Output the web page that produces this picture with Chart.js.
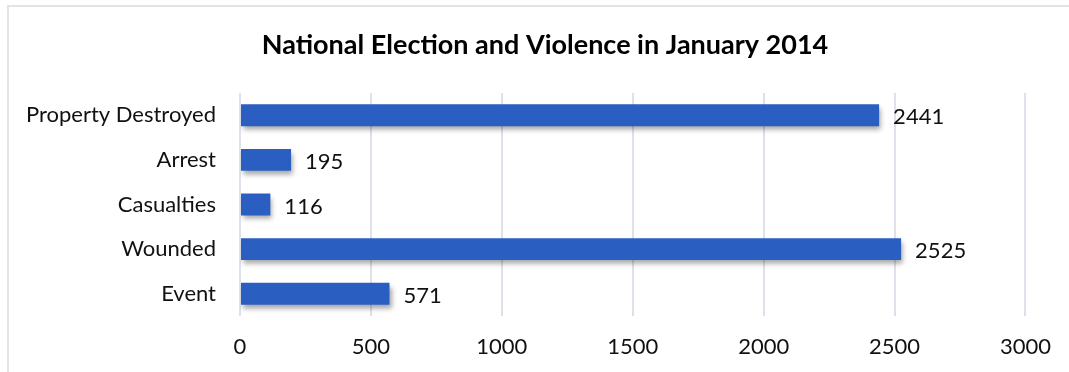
<!DOCTYPE html>
<html>
<head>
<meta charset="utf-8">
<script src="https://cdn.jsdelivr.net/npm/chart.js@4.4.1/dist/chart.umd.min.js"></script>
<style>
  html, body { margin: 0; padding: 0; background: #fff; overflow: hidden; }
  canvas { display: block; }
</style>
</head>
<body>
<canvas id="chart" width="1069" height="372"></canvas>
<script>
// chart data
const categories = ['Property Destroyed', 'Arrest', 'Casualties', 'Wounded', 'Event'];
const values = [2441, 195, 116, 2525, 571];
const xTicks = [0, 500, 1000, 1500, 2000, 2500, 3000];
const titleText = 'National Election and Violence in January 2014';

const FONT = 'Lato, "Open Sans", sans-serif';

// bar gradient, darker at the bottom
function barFill(context) {
  const el = context.element;
  const c = context.chart.ctx;
  if (!el || el.y === undefined) return '#2a5ec0';
  const h = el.height || 22;
  const g = c.createLinearGradient(0, el.y - h / 2, 0, el.y + h / 2);
  g.addColorStop(0, '#2f6cd6');
  g.addColorStop(1, '#234fa3');
  return g;
}

// light frame (top and left edges) plus the centred title
const framePlugin = {
  id: 'frame',
  beforeDraw(chart) {
    const c = chart.ctx;
    c.save();
    c.strokeStyle = '#e3e3e3';
    c.lineWidth = 2;
    c.beginPath();
    c.moveTo(8, 372);
    c.lineTo(8, 6);
    c.lineTo(1069, 6);
    c.stroke();
    c.font = 'bold 27px ' + FONT;
    c.fillStyle = '#000';
    c.textAlign = 'center';
    c.textBaseline = 'middle';
    c.fillText(titleText, 545, 45);
    c.restore();
  }
};

// soft shadow under the bars
const shadowPlugin = {
  id: 'shadow',
  beforeDatasetsDraw(chart) {
    const c = chart.ctx;
    c.save();
    c.shadowColor = 'rgba(0,0,0,0.35)';
    c.shadowBlur = 5;
    c.shadowOffsetX = 2;
    c.shadowOffsetY = 4;
  },
  afterDatasetsDraw(chart) {
    chart.ctx.restore();
  }
};

// value labels to the right of each bar
const valueLabels = {
  id: 'valueLabels',
  afterDatasetsDraw(chart) {
    const c = chart.ctx;
    const meta = chart.getDatasetMeta(0);
    c.save();
    c.font = '22px ' + FONT;
    c.fillStyle = '#111';
    c.textAlign = 'left';
    c.textBaseline = 'middle';
    meta.data.forEach((bar, i) => {
      c.fillText(String(values[i]), bar.x + 14, bar.y + 2);
    });
    c.restore();
  }
};

new Chart(document.getElementById('chart'), {
  type: 'bar',
  data: {
    labels: categories,
    datasets: [{
      data: values,
      backgroundColor: barFill,
      borderWidth: 0,
      categoryPercentage: 0.7,
      barPercentage: 0.7
    }]
  },
  options: {
    indexAxis: 'y',
    responsive: false,
    animation: false,
    layout: { padding: { left: 0, right: 38, top: 93, bottom: 0 } },
    plugins: {
      legend: { display: false },
      tooltip: { enabled: false },
      title: { display: false }
    },
    scales: {
      x: {
        min: 0,
        max: 3000,
        afterBuildTicks(scale) { scale.ticks = xTicks.map(v => ({ value: v })); },
        afterFit(scale) { scale.height = 56; },
        grid: { color: '#dde1ea', lineWidth: 2, drawTicks: false },
        border: { display: false },
        ticks: {
          color: '#111', padding: 18,
          font: { family: FONT, size: 22, lineHeight: 1.2 },
          callback: v => String(v)
        }
      },
      y: {
        afterFit(scale) { scale.width = 240; },
        grid: { display: false, drawTicks: false },
        border: { display: false },
        ticks: { color: '#111', padding: 24, font: { family: FONT, size: 22, lineHeight: 1.2 } }
      }
    }
  },
  plugins: [framePlugin, shadowPlugin, valueLabels]
});
</script>
</body>
</html>
